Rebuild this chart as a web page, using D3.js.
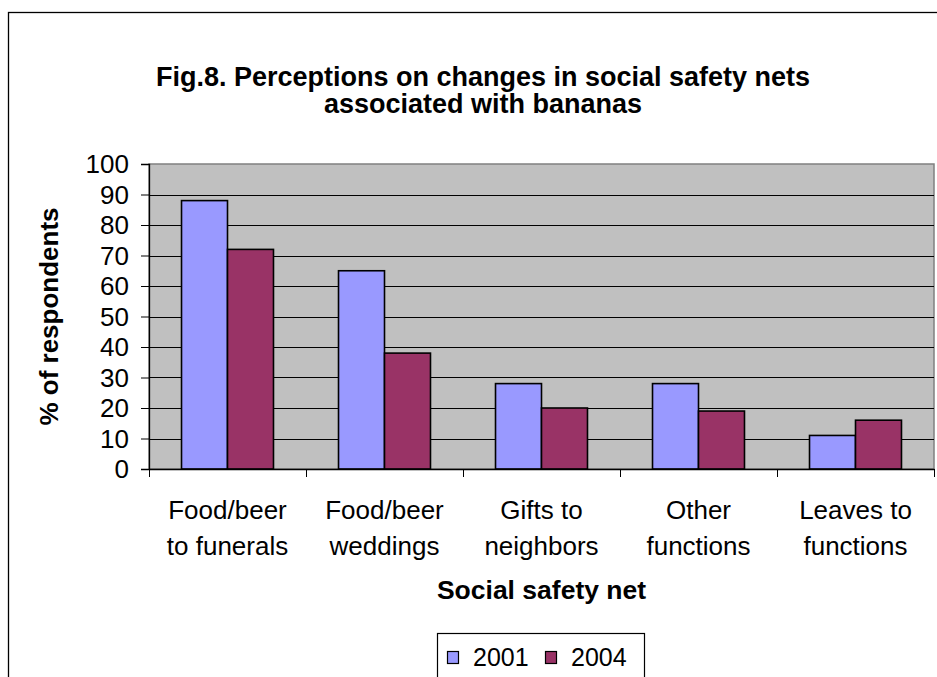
<!DOCTYPE html>
<html>
<head>
<meta charset="utf-8">
<script src="https://cdn.jsdelivr.net/npm/d3@7/dist/d3.min.js"></script>
<style>
  html, body { margin: 0; padding: 0; background: #fff; overflow: hidden; }
  svg { display: block; font-family: "Liberation Sans", Arial, sans-serif; }
</style>
</head>
<body>
<svg id="chart" width="937" height="677"></svg>
<script>
// ---- data ----
const categories = ["Food/beer to funerals", "Food/beer weddings", "Gifts to neighbors", "Other functions", "Leaves to functions"];
const categoryLines = [["Food/beer", "to funerals"], ["Food/beer", "weddings"], ["Gifts to", "neighbors"], ["Other", "functions"], ["Leaves to", "functions"]];
const seriesNames = ["2001", "2004"];
const values2001 = [88, 65, 28, 28, 11];
const values2004 = [72, 38, 20, 19, 16];
const yTicks = [0, 10, 20, 30, 40, 50, 60, 70, 80, 90, 100];
const seriesColors = ["#9999FF", "#993366"];
const titleLines = ["Fig.8. Perceptions on changes in social safety nets", "associated with bananas"];
const yTitle = "% of respondents";
const xTitle = "Social safety net";

// ---- layout ----
const plot = { left: 149, right: 934, top: 164, bottom: 469 };
const svg = d3.select("#chart");

function txt(parent, x, y, str, opts) {
  opts = opts || {};
  return parent.append("text")
    .attr("x", x).attr("y", y)
    .attr("text-anchor", opts.anchor || "middle")
    .attr("font-size", opts.size || 26)
    .attr("font-weight", opts.bold ? "bold" : "normal")
    .attr("fill", "#000")
    .text(str);
}

// outer chart border
svg.append("rect").attr("x", 8.5).attr("y", 12.5).attr("width", 960).attr("height", 700)
  .attr("fill", "#fff").attr("stroke", "#000").attr("stroke-width", 1.3);

// scales
const x0 = d3.scaleBand().domain(categories).range([plot.left, plot.right]).paddingInner(0).paddingOuter(0);
const x1 = d3.scaleBand().domain(seriesNames).range([0, x0.bandwidth()]).paddingInner(0).paddingOuter(0.707);
const y = d3.scaleLinear().domain([0, 100]).range([plot.bottom, plot.top]);

// plot area
svg.append("rect").attr("x", plot.left).attr("y", plot.top)
  .attr("width", plot.right - plot.left).attr("height", plot.bottom - plot.top)
  .attr("fill", "#C0C0C0").attr("stroke", "#808080").attr("stroke-width", 1.5);

// gridlines
svg.append("g").selectAll("line").data(yTicks.filter(t => t > 0 && t < 100)).join("line")
  .attr("x1", plot.left).attr("x2", plot.right)
  .attr("y1", d => Math.round(y(d)) + 0.5).attr("y2", d => Math.round(y(d)) + 0.5)
  .attr("stroke", "#000").attr("stroke-width", 1);

// bars
const data = categories.map((c, i) => ({ cat: c, vals: [values2001[i], values2004[i]] }));
const groups = svg.append("g").selectAll("g").data(data).join("g")
  .attr("transform", d => `translate(${x0(d.cat)},0)`);
groups.selectAll("rect").data(d => d.vals.map((v, j) => ({ s: seriesNames[j], v, j }))).join("rect")
  .attr("x", d => x1(d.s)).attr("width", x1.bandwidth())
  .attr("y", d => y(d.v)).attr("height", d => y(0) - y(d.v))
  .attr("fill", d => seriesColors[d.j]).attr("stroke", "#000").attr("stroke-width", 1.6);

// y axis
const yAxis = svg.append("g").attr("transform", `translate(${plot.left},0)`)
  .call(d3.axisLeft(y).tickValues(yTicks).tickSize(8).tickFormat(""));
yAxis.select(".domain").attr("stroke", "#000").attr("stroke-width", 1.3);
yAxis.selectAll(".tick line").attr("stroke", "#000");
yTicks.forEach(t => txt(svg, 129, y(t) + 9.3, String(t), { anchor: "end", size: 26 }));

// x axis
const xAxis = svg.append("g").attr("transform", `translate(0,${plot.bottom})`)
  .call(d3.axisBottom(x0).tickSize(0).tickFormat(""));
xAxis.select(".domain").attr("stroke", "#000").attr("stroke-width", 1.3);
const bounds = categories.map(c => x0(c)).concat([plot.right]);
svg.append("g").selectAll("line").data(bounds).join("line")
  .attr("x1", d => Math.round(d) + 0.5).attr("x2", d => Math.round(d) + 0.5)
  .attr("y1", plot.bottom).attr("y2", plot.bottom + 8)
  .attr("stroke", "#000").attr("stroke-width", 1);

// category labels
categories.forEach((c, i) => {
  const cx = x0(c) + x0.bandwidth() / 2;
  categoryLines[i].forEach((ln, k) => txt(svg, cx, 519 + k * 36, ln, { size: 26 }));
});

// titles
titleLines.forEach((ln, k) => txt(svg, 483, 86 + k * 27, ln, { size: 27, bold: true }));
txt(svg, (plot.left + plot.right) / 2, 599, xTitle, { size: 26.5, bold: true });
svg.append("text")
  .attr("transform", `translate(58,${(plot.top + plot.bottom) / 2}) rotate(-90)`)
  .attr("text-anchor", "middle").attr("font-size", 26).attr("font-weight", "bold").attr("fill", "#000")
  .text(yTitle);

// legend
const leg = svg.append("g");
leg.append("rect").attr("x", 437.5).attr("y", 633.5).attr("width", 207).attr("height", 60)
  .attr("fill", "#fff").attr("stroke", "#000").attr("stroke-width", 1.2);
const legX = [447, 545];
seriesNames.forEach((s, j) => {
  leg.append("rect").attr("x", legX[j] + 0.5).attr("y", 651.5).attr("width", 11).attr("height", 12)
    .attr("fill", seriesColors[j]).attr("stroke", "#000").attr("stroke-width", 1.2);
  txt(leg, legX[j] + 26, 666, s, { anchor: "start", size: 25 });
});
</script>
</body>
</html>
